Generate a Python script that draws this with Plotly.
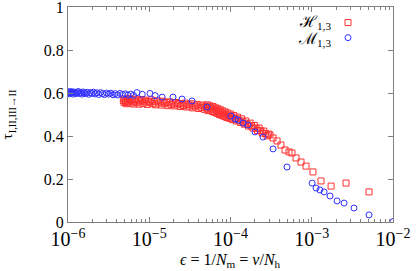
import plotly.graph_objects as go

# ---- data: M_{1,3} (blue circles) ----
m_x = [1.00e-6, 1.02e-6, 1.04e-6, 1.06e-6, 1.08e-6, 1.10e-6, 1.13e-6, 1.16e-6, 1.19e-6, 1.22e-6,
       1.26e-6, 1.30e-6, 1.34e-6, 1.38e-6, 1.43e-6, 1.48e-6, 1.53e-6, 1.59e-6, 1.65e-6, 1.72e-6,
       1.80e-6, 1.88e-6, 1.97e-6, 2.06e-6, 2.16e-6, 2.27e-6, 2.39e-6, 2.52e-6, 2.66e-6, 2.81e-6,
       2.98e-6, 3.16e-6, 3.36e-6, 3.58e-6, 3.82e-6, 4.08e-6, 4.37e-6, 4.69e-6, 5.05e-6, 5.45e-6,
       5.9e-6, 6.4e-6, 7.06e-6, 8.2e-6, 1.02e-5, 1.18e-5, 1.44e-5, 1.96e-5, 2.53e-5, 3.36e-5,
       5.14e-5, 1.01e-4, 1.14e-4, 1.24e-4, 1.43e-4, 1.64e-4, 2.00e-4, 2.51e-4, 3.34e-4, 4.96e-4,
       1.01e-3, 1.13e-3, 1.26e-3, 1.42e-3, 1.68e-3, 2.05e-3, 2.50e-3, 3.31e-3, 5.07e-3, 1.0e-2]
m_y = [0.600, 0.606, 0.596, 0.601, 0.607, 0.599, 0.604, 0.595, 0.605, 0.600,
       0.597, 0.603, 0.607, 0.598, 0.602, 0.595, 0.605, 0.600, 0.597, 0.603,
       0.594, 0.602, 0.598, 0.604, 0.596, 0.601, 0.593, 0.602, 0.597, 0.593,
       0.600, 0.595, 0.599, 0.592, 0.597, 0.591, 0.598, 0.593, 0.596, 0.590,
       0.595, 0.589, 0.602, 0.594, 0.598, 0.588, 0.581, 0.581, 0.572, 0.563,
       0.535, 0.493, 0.479, 0.474, 0.460, 0.451, 0.419, 0.395, 0.340, 0.256,
       0.181, 0.158, 0.149, 0.140, 0.121, 0.098, 0.088, 0.065, 0.033, 0.002]

# ---- data: H_{1,3} (red squares) ----
h_x = [4.8e-6, 4.9e-6, 5.0e-6, 5.1e-6, 5.2e-6, 5.4e-6, 5.5e-6, 5.7e-6, 5.8e-6, 6.0e-6,
       6.2e-6, 6.4e-6, 6.6e-6, 6.8e-6, 7.0e-6, 7.3e-6, 7.5e-6, 7.8e-6, 8.1e-6, 8.4e-6,
       8.7e-6, 9.0e-6, 9.4e-6, 9.8e-6, 1.02e-5, 1.06e-5, 1.10e-5, 1.15e-5, 1.20e-5, 1.25e-5,
       1.30e-5, 1.36e-5, 1.42e-5, 1.48e-5, 1.55e-5, 1.62e-5, 1.70e-5, 1.78e-5, 1.86e-5, 1.95e-5,
       2.04e-5, 2.13e-5, 2.22e-5, 2.32e-5, 2.42e-5, 2.53e-5, 2.64e-5, 2.76e-5, 2.88e-5, 3.01e-5,
       3.14e-5, 3.28e-5, 3.42e-5, 3.57e-5, 3.72e-5, 3.88e-5, 4.05e-5, 4.23e-5, 4.41e-5, 4.60e-5,
       4.80e-5, 5.00e-5, 5.1e-5, 5.2e-5, 5.3e-5, 5.45e-5, 5.6e-5, 5.7e-5, 5.85e-5, 6.0e-5,
       6.1e-5, 6.25e-5, 6.4e-5, 6.55e-5, 6.7e-5, 6.85e-5, 7.0e-5, 7.15e-5, 7.3e-5, 7.5e-5,
       7.65e-5, 7.8e-5, 8.0e-5, 8.2e-5, 8.4e-5, 8.6e-5, 8.8e-5, 9.0e-5, 9.25e-5, 9.5e-5,
       9.75e-5, 1.0e-4, 1.03e-4, 1.06e-4, 1.10e-4, 1.14e-4, 1.18e-4, 1.22e-4, 1.27e-4, 1.32e-4,
       1.37e-4, 1.42e-4, 1.48e-4, 1.54e-4, 1.60e-4, 1.67e-4, 1.74e-4, 1.81e-4, 1.89e-4, 1.97e-4,
       2.06e-4, 2.15e-4, 2.25e-4, 2.35e-4, 2.46e-4, 2.57e-4, 2.69e-4, 2.82e-4, 2.95e-4, 3.06e-4,
       3.34e-4, 3.74e-4, 4.18e-4, 4.69e-4, 5.25e-4, 5.71e-4, 6.40e-4, 7.38e-4, 8.50e-4, 1.035e-3,
       1.30e-3, 1.73e-3, 2.64e-3, 5.07e-3]
h_y = [0.565, 0.556, 0.572, 0.561, 0.550, 0.568, 0.558, 0.575, 0.553, 0.564,
       0.570, 0.549, 0.560, 0.571, 0.555, 0.566, 0.548, 0.562, 0.570, 0.552,
       0.559, 0.567, 0.547, 0.561, 0.555, 0.568, 0.550, 0.560, 0.545, 0.564,
       0.553, 0.558, 0.544, 0.562, 0.550, 0.556, 0.541, 0.559, 0.547, 0.553,
       0.540, 0.556, 0.545, 0.551, 0.537, 0.549, 0.542, 0.553, 0.535, 0.546,
       0.539, 0.550, 0.531, 0.543, 0.536, 0.547, 0.528, 0.540, 0.533, 0.544,
       0.524, 0.537, 0.529, 0.545, 0.518, 0.533, 0.540, 0.522, 0.530, 0.514,
       0.537, 0.525, 0.510, 0.531, 0.519, 0.505, 0.527, 0.514, 0.500, 0.522,
       0.508, 0.496, 0.517, 0.503, 0.491, 0.512, 0.498, 0.486, 0.507, 0.493,
       0.482, 0.502, 0.488, 0.476, 0.495, 0.481, 0.470, 0.488, 0.474, 0.463,
       0.480, 0.466, 0.455, 0.470, 0.456, 0.446, 0.460, 0.447, 0.437, 0.449,
       0.436, 0.426, 0.437, 0.424, 0.414, 0.423, 0.411, 0.401, 0.409, 0.405,
       0.391, 0.377, 0.358, 0.335, 0.326, 0.321, 0.298, 0.279, 0.260, 0.233,
       0.191, 0.167, 0.181, 0.140]

y_ticks = [0, 0.2, 0.4, 0.6, 0.8, 1]
y_tick_text = ["0", "0.2", "0.4", "0.6", "0.8", "1"]
label_h = "ℋ<sub>1,3</sub>"
label_m = "ℳ<sub>1,3</sub>"

FONT = "Liberation Serif, DejaVu Serif, serif"
AX = "#808080"

fig = go.Figure()
fig.add_trace(go.Scatter(x=h_x, y=h_y, mode="markers", name="", legend="legend",
                         marker=dict(symbol="square-open", size=6, color="#ff3030",
                                     line=dict(width=1, color="#ff3030"))))
fig.add_trace(go.Scatter(x=m_x, y=m_y, mode="markers", name="", legend="legend2",
                         marker=dict(symbol="circle-open", size=6, color="#3030ff",
                                     line=dict(width=1, color="#3030ff"))))

axis_common = dict(showline=True, linecolor=AX, linewidth=1, mirror="ticks",
                   ticks="inside", tickcolor=AX, showgrid=False, zeroline=False,
                   ticklabeloverflow="allow", automargin=False,
                   tickfont=dict(family=FONT, size=16, color="black"))

fig.update_xaxes(type="log", range=[-6, -2], dtick=1, exponentformat="power",
                 ticklen=5,
                 minor=dict(ticks="inside", ticklen=3, tickcolor=AX, showgrid=False),
                 **axis_common)
fig.update_yaxes(range=[0, 1.0001], tickvals=y_ticks, ticktext=y_tick_text,
                 ticklen=5, **axis_common)

leg_common = dict(xanchor="left", yanchor="top", bgcolor="rgba(0,0,0,0)",
                  font=dict(size=10), itemwidth=30)

fig.update_layout(
    width=419, height=271,
    margin=dict(l=68, r=26, t=7, b=49, autoexpand=False),
    plot_bgcolor="white", paper_bgcolor="white",
    font=dict(family=FONT, size=16, color="black"),
    showlegend=True,
    legend=dict(x=0.80, y=0.995, **leg_common),
    legend2=dict(x=0.80, y=0.925, **leg_common),
    annotations=[
        dict(text=label_h, x=0.815, y=0.926, xref="paper", yref="paper",
             xanchor="right", yanchor="middle", showarrow=False,
             font=dict(family=FONT, size=16)),
        dict(text=label_m, x=0.815, y=0.851, xref="paper", yref="paper",
             xanchor="right", yanchor="middle", showarrow=False,
             font=dict(family=FONT, size=16)),
        dict(text="τ<sub>I,II,III→II</sub>", x=-0.185, y=0.5, xref="paper", yref="paper",
             textangle=-90, xanchor="center", yanchor="middle", showarrow=False,
             font=dict(family=FONT, size=15)),
        dict(text="<i>ϵ</i> = 1/<i>N</i><sub>m</sub> = <i>ν</i>/<i>N</i><sub>h</sub>",
             x=0.5, y=-0.177, xref="paper", yref="paper",
             xanchor="center", yanchor="middle", showarrow=False,
             font=dict(family=FONT, size=16)),
    ],
)

fig.write_html("out.html", config={"displayModeBar": False},
               post_script="document.body.style.margin='0';")
